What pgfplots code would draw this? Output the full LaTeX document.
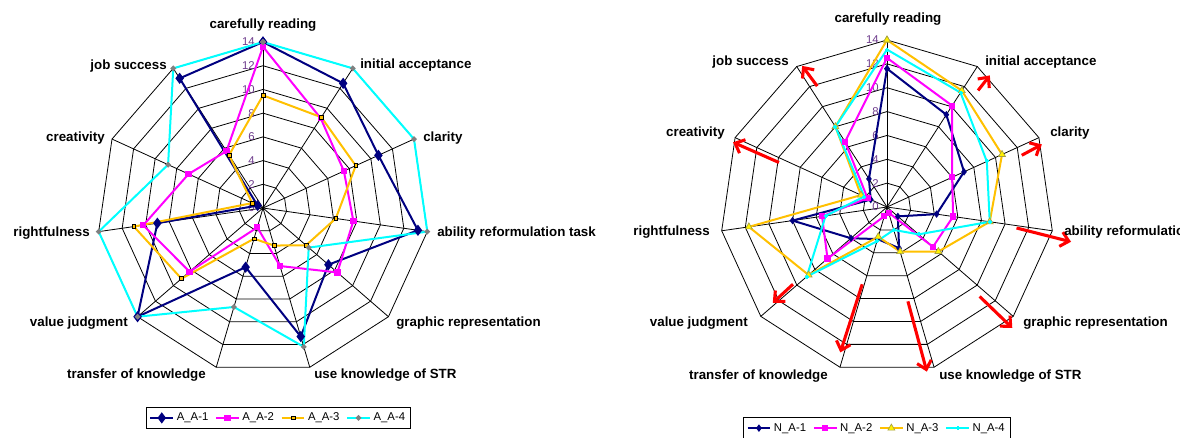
\documentclass[border=0pt]{standalone}
\usepackage{fontspec}
\setmainfont{Liberation Sans}
\setsansfont{Liberation Sans}
\usepackage{pgfplots}
\pgfplotsset{compat=1.18}
\usepgfplotslibrary{polar}
\usetikzlibrary{arrows.meta}

\definecolor{navy}{RGB}{0,0,128}
\definecolor{mag}{RGB}{255,0,255}
\definecolor{gold}{RGB}{255,192,0}
\definecolor{aqua}{RGB}{0,255,255}
\definecolor{tickpurple}{RGB}{110,60,140}

% 11 spokes, clockwise from the top
\newcommand{\ring}[1]{(90,#1) (57.2727,#1) (24.5455,#1) (-8.1818,#1) (-40.9091,#1) (-73.6364,#1) (-106.3636,#1) (-139.0909,#1) (-171.8182,#1) (-204.5455,#1) (-237.2727,#1) (-270,#1)}

\newcommand{\radargrid}{%
  \pgfplotsinvokeforeach{2,4,6,8,10,12,14}{
    \addplot[black, line width=0.6pt, forget plot] coordinates {\ring{##1}};
  }
  \pgfplotsinvokeforeach{90,57.2727,24.5455,-8.1818,-40.9091,-73.6364,-106.3636,-139.0909,-171.8182,-204.5455,-237.2727}{
    \addplot[black, line width=0.6pt, forget plot] coordinates {(##1,0) (##1,14)};
  }
  \pgfplotsinvokeforeach{0,2,4,6,8,10,12,14}{
    \node[anchor=east, text=tickpurple, inner sep=0pt, xshift=-6pt,
      font=\fontsize{8.5}{10}\selectfont] at (axis cs:90,##1) {##1};
  }
}

\pgfplotsset{
  radar/.style={
    hide axis, xmin=0, xmax=360, ymin=0, ymax=14,
    scale only axis, clip=false, anchor=origin,
    legend columns=4,
    legend style={draw=black, line width=0.6pt, anchor=north,
      font=\fontsize{8.5}{10}\selectfont, inner sep=2pt,
      /tikz/every even column/.append style={column sep=3pt}},
  },
  ser/.style={line width=1.5pt},
}

\begin{document}
\begin{tikzpicture}[x=0.75pt, y=-0.75pt]
\useasboundingbox (0,0) rectangle (1180,437);

% ---------------- left chart ----------------
\begin{polaraxis}[radar, width=249pt, height=249pt, at={(197.25pt,-156pt)},
  legend style={at={(0.547,-0.1)}}]
\radargrid
\addplot[ser, navy, mark=diamond*, mark size=3pt, mark options={fill=navy}] coordinates {
(90,14) (57.2727,12.5) (24.5455,10.7) (-8.1818,13.2) (-40.9091,7.3) (-73.6364,11.3)
(-106.3636,5.2) (-139.0909,14) (-171.8182,9) (-204.5455,0.5) (-237.2727,13) (-270,14)};
\addplot[ser, mag, mark=square*, mark size=1.6pt, mark options={fill=mag}] coordinates {
(90,13.6) (57.2727,9) (24.5455,7.5) (-8.1818,7.7) (-40.9091,8.3) (-73.6364,5.1)
(-106.3636,1.7) (-139.0909,8.2) (-171.8182,10.2) (-204.5455,6.9) (-237.2727,5.7) (-270,13.6)};
\addplot[ser, gold, mark=square*, mark size=1.4pt, mark options={fill=gold, draw=black, line width=0.5pt}] coordinates {
(90,9.5) (57.2727,9.1) (24.5455,8.6) (-8.1818,6.2) (-40.9091,4.8) (-73.6364,3.3)
(-106.3636,2.7) (-139.0909,9.1) (-171.8182,11) (-204.5455,1.0) (-237.2727,5.3) (-270,9.5)};
\addplot[ser, aqua, mark=*, mark size=1.2pt, mark options={fill=gray, draw=gray}] coordinates {
(90,14) (57.2727,14) (24.5455,14) (-8.1818,14) (-40.9091,5.1) (-73.6364,12.2)
(-106.3636,8.7) (-139.0909,14) (-171.8182,14) (-204.5455,8.8) (-237.2727,14) (-270,14)};
\legend{A\_A-1, A\_A-2, A\_A-3, A\_A-4}
\end{polaraxis}

% ---------------- right chart ----------------
\begin{polaraxis}[radar, width=250.5pt, height=250.5pt, at={(665.25pt,-155.25pt)},
  legend style={at={(0.47,-0.13)}}]
\radargrid
\addplot[ser, navy, mark=diamond*, mark size=1.6pt, mark options={fill=navy}] coordinates {
(90,11.6) (57.2727,9.2) (24.5455,7.1) (-8.1818,4.2) (-40.9091,1.2) (-73.6364,3.6)
(-106.3636,2.8) (-139.0909,4.0) (-171.8182,8.0) (-204.5455,1.5) (-237.2727,2.8) (-270,11.6)};
\addplot[ser, mag, mark=square*, mark size=1.6pt, mark options={fill=mag}] coordinates {
(90,12.5) (57.2727,10.1) (24.5455,6.0) (-8.1818,5.6) (-40.9091,5.1) (-73.6364,0.5)
(-106.3636,0.8) (-139.0909,6.6) (-171.8182,5.5) (-204.5455,1.8) (-237.2727,6.5) (-270,12.5)};
\addplot[ser, gold, mark=triangle*, mark size=3pt, mark options={fill=yellow, draw=yellow!60!black, line width=0.5pt}] coordinates {
(90,14) (57.2727,11.6) (24.5455,10.6) (-8.1818,8.7) (-40.9091,5.7) (-73.6364,3.9)
(-106.3636,2.6) (-139.0909,8.7) (-171.8182,11.7) (-204.5455,2.4) (-237.2727,8.0) (-270,14)};
\addplot[ser, aqua, mark=+, mark size=1.5pt] coordinates {
(90,13.2) (57.2727,11.4) (24.5455,9.2) (-8.1818,8.7) (-40.9091,3.5) (-73.6364,2.0)
(-106.3636,3.0) (-139.0909,8.9) (-171.8182,5.2) (-204.5455,2.1) (-237.2727,8.0) (-270,13.2)};
\legend{N\_A-1, N\_A-2, N\_A-3, N\_A-4}
% red annotation arrows
\pgfplotsset{arr/.style={red, line width=2.3pt, -{Straight Barb[length=6pt, width=11pt]}, forget plot}}
\addplot[arr] coordinates {(52,12.4) (52,14)};
\addplot[arr] coordinates {(21,12.1) (22,14)};
\addplot[arr] coordinates {(-9.2,11) (-10.7,15.7)};
\addplot[arr] coordinates {(-44,10.8) (-44,14.6)};
\addplot[arr] coordinates {(-77.5,8.1) (-76.4,14.2)};
\addplot[arr] coordinates {(-107.8,6.8) (-107.8,12.8)};
\addplot[arr] coordinates {(-140.6,10.2) (-140,12.5)};
\addplot[arr] coordinates {(-202.4,9.8) (-202.8,14)};
\addplot[arr] coordinates {(-240,11.7) (-239,13.8)};
\end{polaraxis}

% ---------------- category labels ----------------
\tikzset{lab/.style={font=\bfseries\fontsize{10}{12}\selectfont, inner sep=0pt}}
% left
\node[lab] at (263,25) {carefully reading};
\node[lab, anchor=west] at (360,65) {initial acceptance};
\node[lab, anchor=west] at (423,138) {clarity};
\node[lab, anchor=west] at (437,233) {ability reformulation task};
\node[lab, anchor=west] at (396,323) {graphic representation};
\node[lab, anchor=west] at (314,375) {use knowledge of STR};
\node[lab, anchor=east] at (206,375) {transfer of knowledge};
\node[lab, anchor=east] at (128,323) {value judgment};
\node[lab, anchor=east] at (90,233) {rightfulness};
\node[lab, anchor=east] at (105,138) {creativity};
\node[lab, anchor=east] at (167,66) {job success};
% right
\node[lab] at (888,19) {carefully reading};
\node[lab, anchor=west] at (985,62) {initial acceptance};
\node[lab, anchor=west] at (1050,133) {clarity};
\node[lab, anchor=west] at (1064,232) {ability reformulation task};
\node[lab, anchor=west] at (1023,323) {graphic representation};
\node[lab, anchor=west] at (939,376) {use knowledge of STR};
\node[lab, anchor=east] at (828,376) {transfer of knowledge};
\node[lab, anchor=east] at (748,323) {value judgment};
\node[lab, anchor=east] at (710,232) {rightfulness};
\node[lab, anchor=east] at (725,133) {creativity};
\node[lab, anchor=east] at (789,62) {job success};
\end{tikzpicture}
\end{document}
